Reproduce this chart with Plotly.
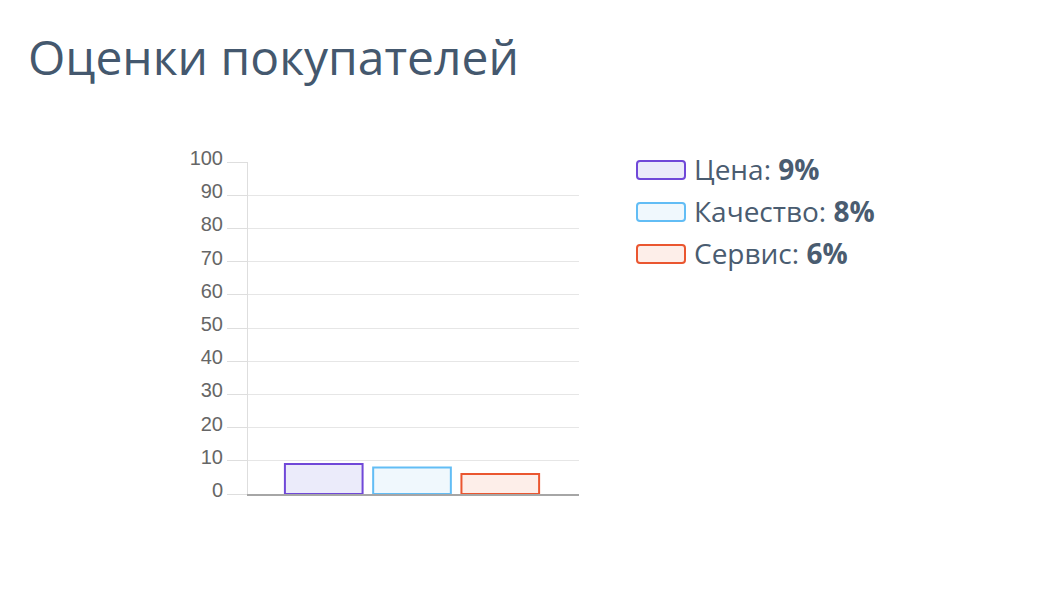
import plotly.graph_objects as go

title_text = "Оценки покупателей"
series_names = ["Цена", "Качество", "Сервис"]
series_values = [9, 8, 6]
border_colors = ["#7048d8", "#62bdf5", "#ea5630"]
fill_colors = ["#ebebfa", "#f0f8fd", "#fdeee9"]
y_ticks = [0, 10, 20, 30, 40, 50, 60, 70, 80, 90, 100]

W, H = 1054, 598
OFF = 8  # default page body margin
L, R, T, B = 248 - OFF, 579 - OFF, 162 - OFF, 494 - OFF

fig = go.Figure()
for name, val, bc, fc in zip(series_names, series_values, border_colors, fill_colors):
    fig.add_trace(go.Bar(
        x=[""], y=[val], name=name,
        marker=dict(color=fc, line=dict(color=bc, width=2)),
        showlegend=False, hoverinfo="name+y",
    ))

def px2paper(px, py):
    px -= OFF
    py -= OFF
    return (px - L) / (R - L), (B - py) / (B - T)

def rounded_rect(px0, py0, px1, py1, r):
    def P(x, y):
        a, b = px2paper(x, y)
        return f"{a:.5f},{b:.5f}"
    path = (f"M {P(px0 + r, py0)} L {P(px1 - r, py0)} Q {P(px1, py0)} {P(px1, py0 + r)} "
            f"L {P(px1, py1 - r)} Q {P(px1, py1)} {P(px1 - r, py1)} "
            f"L {P(px0 + r, py1)} Q {P(px0, py1)} {P(px0, py1 - r)} "
            f"L {P(px0, py0 + r)} Q {P(px0, py0)} {P(px0 + r, py0)} Z")
    return path

shapes = []
annotations = []
for i, (name, val, bc, fc) in enumerate(zip(series_names, series_values, border_colors, fill_colors)):
    cy = 170 + 42 * i
    shapes.append(dict(type="path", xref="paper", yref="paper",
                       path=rounded_rect(637, cy - 9, 685, cy + 9, 3),
                       fillcolor=fc, line=dict(color=bc, width=2), layer="above"))
    tx, ty = px2paper(692, cy - 1.5)
    annotations.append(dict(xref="paper", yref="paper", x=tx, y=ty, xanchor="left", yanchor="middle",
                            showarrow=False, text=f"{name}: <b>{val}%</b>",
                            font=dict(family="Open Sans", size=28, color="#4a5c70")))

fig.update_layout(
    width=W, height=H,
    margin=dict(l=L, r=W - R, t=T, b=H - B, autoexpand=False),
    paper_bgcolor="white", plot_bgcolor="white",
    barmode="group", bargap=0.2, bargroupgap=0.12,
    title=dict(text=title_text, x=(28 - OFF) / W, xanchor="left", xref="container",
               y=1 - (58 - OFF) / H, yanchor="middle", yref="container",
               font=dict(family="Open Sans", size=48, color="#44586e")),
    shapes=shapes, annotations=annotations,
    xaxis=dict(showticklabels=False, showgrid=False, ticks="", showline=True, linecolor="#a6a6a6", linewidth=2,
               range=[-0.4955, 0.5045], fixedrange=True),
    yaxis=dict(range=[0, 100], tickvals=y_ticks, ticks="outside", ticklen=20, tickcolor="#dedede",
               showgrid=True, gridcolor="#e6e6e6", gridwidth=1, zeroline=False,
               showline=True, linecolor="#dedede", linewidth=1,
               tickfont=dict(family="Liberation Sans", size=20, color="#666666"), ticklabelstandoff=0,
               ticklabelshift=-4,
               fixedrange=True),
)
fig.write_html("out.html")
